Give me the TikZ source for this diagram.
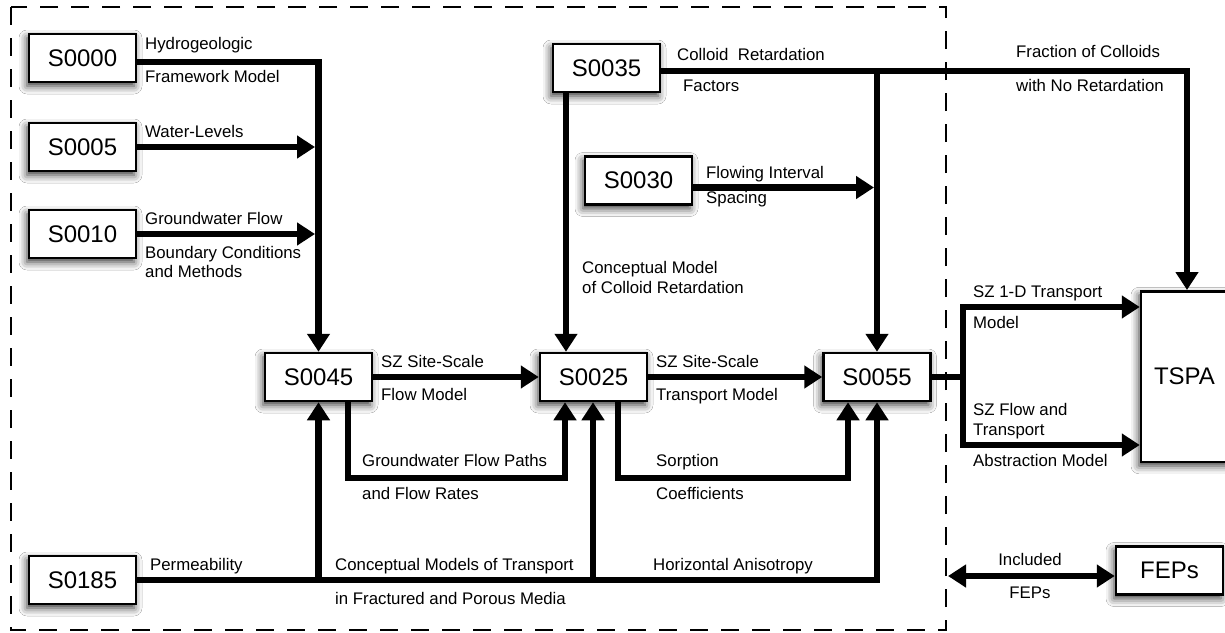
\documentclass[tikz,border=0pt]{standalone}
\usepackage{fontspec}
\setmainfont{Liberation Sans}
\usetikzlibrary{arrows.meta,shadows.blur}
\begin{document}
\begin{tikzpicture}[x=1pt,y=-1pt,
  box/.style={draw=black, line width=2.5pt, fill=white, minimum width=107pt, minimum height=48pt, inner sep=0pt,
    font=\fontsize{24}{28}\selectfont,
    blur shadow={shadow xshift=-2pt, shadow yshift=-4pt, shadow blur radius=8pt, shadow opacity=80}},
  lbl/.style={anchor=base west, inner sep=0pt, font=\fontsize{16.8}{19}\selectfont},
  clbl/.style={lbl, anchor=base},
  conn/.style={line width=6.5pt},
  arr/.style={conn, -{Triangle[length=18pt,width=22pt]}},
  darr/.style={conn, {Triangle[length=18pt,width=22pt]}-{Triangle[length=18pt,width=22pt]}},
  frame/.style={line width=2.5pt, dash pattern=on 18pt off 13pt},
]
\useasboundingbox (0,0) rectangle (1225,632);
\clip (0,0) rectangle (1225,632);
\fill[white] (0,0) rectangle (1225,632);

% dashed frame
\draw[frame] (11,7) rectangle (946,630);

% boxes
\node[box] (s0000) at (82.5,58) {S0000};
\node[box] (s0005) at (82.5,147) {S0005};
\node[box] (s0010) at (82.5,234) {S0010};
\node[box] (s0185) at (82.5,580) {S0185};
\node[box] (s0045) at (318.5,377) {S0045};
\node[box] (s0025) at (593.5,377) {S0025};
\node[box] (s0055) at (877,377) {S0055};
\node[box] (s0035) at (606.5,68) {S0035};
\node[box] (s0030) at (638.5,180.5) {S0030};
\node[box, minimum width=87pt, minimum height=170.5pt] (tspa) at (1184.5,376.5) {TSPA};
\node[box] (fep) at (1169.5,570.5) {FEPs};

% junction coordinates
\coordinate (b5) at (315,147);
\coordinate (b10) at (315,234);
\coordinate (fr) at (1187,71);
\coordinate (j35) at (877,71);
\coordinate (j30) at (874,187.5);
\coordinate (spl) at (963,377);
\coordinate (spt) at (963,307);
\coordinate (spb) at (963,445);
\coordinate (g1) at (348,478);
\coordinate (g2) at (565,478);
\coordinate (h1) at (618,478);
\coordinate (h2) at (848,478);
\coordinate (p1) at (318.5,580);
\coordinate (p2) at (593,580);
\coordinate (incl) at (948,576);

% connectors
\draw[arr] ([yshift=-4pt]s0000.east) -| (s0045.north);
\draw[arr] (s0005.east) -- (b5);
\draw[arr] (s0010.east) -- (b10);

\draw[arr] ([yshift=-3pt]s0035.east) -- (fr) -- (fr |- tspa.north);
\draw[arr] (j35) -- (s0055.north);
\draw[arr] ([xshift=-40.5pt]s0035.south) -- ([xshift=-27.5pt]s0025.north);
\draw[arr] ([yshift=-7pt]s0030.east) -- (j30);

\draw[arr] (s0045.east) -- (s0025.west);
\draw[arr] (s0025.east) -- (s0055.west);

\draw[conn] (s0055.east) -- (spl);
\draw[arr] (spl) -- (spt) -- (tspa.west |- spt);
\draw[arr] (spl) -- (spb) -- (tspa.west |- spb);

\draw[arr] ([xshift=29.5pt]s0045.south) -- (g1) -- (g2) -- (g2 |- s0025.south);
\draw[arr] ([xshift=24.5pt]s0025.south) -- (h1) -- (h2) -- (h2 |- s0055.south);

\draw[arr] (s0185.east) -| (s0055.south);
\draw[arr] (p1) -- (s0045.south);
\draw[arr] (p2) -- (p2 |- s0025.south);

\draw[darr] (incl) -- (fep.west |- incl);

% labels
\node[lbl] at (145,49) {Hydrogeologic};
\node[lbl] at (145,82) {Framework Model};
\node[lbl] at (145,137) {Water-Levels};
\node[lbl] at (145,224) {Groundwater Flow};
\node[lbl] at (145,258) {Boundary Conditions};
\node[lbl] at (145,277) {and Methods};
\node[lbl] at (677,60) {Colloid\ \ Retardation};
\node[lbl] at (683,91) {Factors};
\node[lbl] at (706,178) {Flowing Interval};
\node[lbl] at (706,203) {Spacing};
\node[lbl] at (582,273) {Conceptual Model};
\node[lbl] at (582,293) {of Colloid Retardation};
\node[lbl] at (1016,57) {Fraction of Colloids};
\node[lbl] at (1016,91) {with No Retardation};
\node[lbl] at (973,297) {SZ 1-D Transport};
\node[lbl] at (973,328) {Model};
\node[lbl] at (973,415) {SZ Flow and};
\node[lbl] at (973,435) {Transport};
\node[lbl] at (973,466) {Abstraction Model};
\node[clbl] at (1030,565) {Included};
\node[clbl] at (1030,598) {FEPs};
\node[lbl] at (381,367) {SZ Site-Scale};
\node[lbl] at (381,400) {Flow Model};
\node[lbl] at (362,466) {Groundwater Flow Paths};
\node[lbl] at (362,499) {and Flow Rates};
\node[lbl] at (150,570) {Permeability};
\node[lbl] at (335,570) {Conceptual Models of Transport};
\node[lbl] at (335,604) {in Fractured and Porous Media};
\node[lbl] at (656,367) {SZ Site-Scale};
\node[lbl] at (656,400) {Transport Model};
\node[lbl] at (656,466) {Sorption};
\node[lbl] at (656,499) {Coefficients};
\node[lbl] at (653,570) {Horizontal Anisotropy};
\end{tikzpicture}
\end{document}
